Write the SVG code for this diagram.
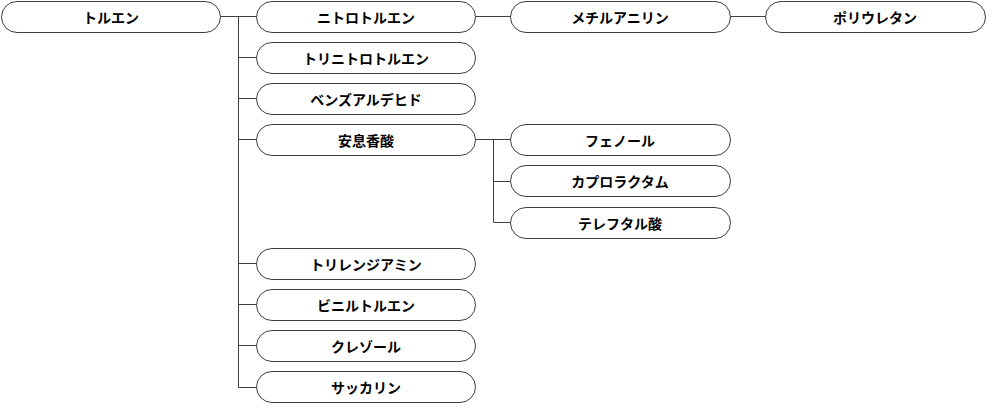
<svg xmlns="http://www.w3.org/2000/svg" width="987" height="409" viewBox="0 0 987 409">
<style>
.n rect{fill:#fff;stroke:#404040;stroke-width:1}
.n text{font-family:"Noto Sans CJK JP",sans-serif;font-weight:bold;font-size:14px;fill:#000;text-anchor:middle;dominant-baseline:central}
.c{stroke:#404040;stroke-width:1;fill:none}
</style>
<rect width="987" height="409" fill="#fff"/>
<g id="connectors" class="c">
<path d="M220.5 16.5H256.5M238.5 16.5V387.5M238.5 57.5H256.5M238.5 98.5H256.5M238.5 139.5H256.5M238.5 263.5H256.5M238.5 304.5H256.5M238.5 345.5H256.5M238.5 387.5H256.5"/>
<path d="M475.5 16.5H510.5M730.5 16.5H765.5"/>
<path d="M475.5 139.5H510.5M493.5 139.5V222.5M493.5 181.5H510.5M493.5 222.5H510.5"/>
</g>
<g id="n1" class="n"><rect x="1.5" y="1.5" width="219" height="31" rx="15.5"/><text x="111" y="17">トルエン</text></g>
<g id="n2" class="n"><rect x="256.5" y="1.5" width="219" height="31" rx="15.5"/><text x="366" y="17">ニトロトルエン</text></g>
<g id="n3" class="n"><rect x="256.5" y="42.5" width="219" height="31" rx="15.5"/><text x="366" y="58">トリニトロトルエン</text></g>
<g id="n4" class="n"><rect x="256.5" y="83.5" width="219" height="31" rx="15.5"/><text x="366" y="99">ベンズアルデヒド</text></g>
<g id="n5" class="n"><rect x="256.5" y="124.5" width="219" height="31" rx="15.5"/><text x="366" y="140">安息香酸</text></g>
<g id="n6" class="n"><rect x="256.5" y="248.5" width="219" height="31" rx="15.5"/><text x="366" y="264">トリレンジアミン</text></g>
<g id="n7" class="n"><rect x="256.5" y="289.5" width="219" height="31" rx="15.5"/><text x="366" y="305">ビニルトルエン</text></g>
<g id="n8" class="n"><rect x="256.5" y="330.5" width="219" height="31" rx="15.5"/><text x="366" y="346">クレゾール</text></g>
<g id="n9" class="n"><rect x="256.5" y="371.5" width="219" height="31" rx="15.5"/><text x="366" y="387">サッカリン</text></g>
<g id="n10" class="n"><rect x="510.5" y="1.5" width="220" height="31" rx="15.5"/><text x="620" y="17">メチルアニリン</text></g>
<g id="n11" class="n"><rect x="765.5" y="1.5" width="220" height="31" rx="15.5"/><text x="875" y="17">ポリウレタン</text></g>
<g id="n12" class="n"><rect x="510.5" y="124.5" width="220" height="31" rx="15.5"/><text x="620" y="140">フェノール</text></g>
<g id="n13" class="n"><rect x="510.5" y="165.5" width="220" height="31" rx="15.5"/><text x="620" y="181">カプロラクタム</text></g>
<g id="n14" class="n"><rect x="510.5" y="207.5" width="220" height="31" rx="15.5"/><text x="620" y="223">テレフタル酸</text></g>
</svg>
